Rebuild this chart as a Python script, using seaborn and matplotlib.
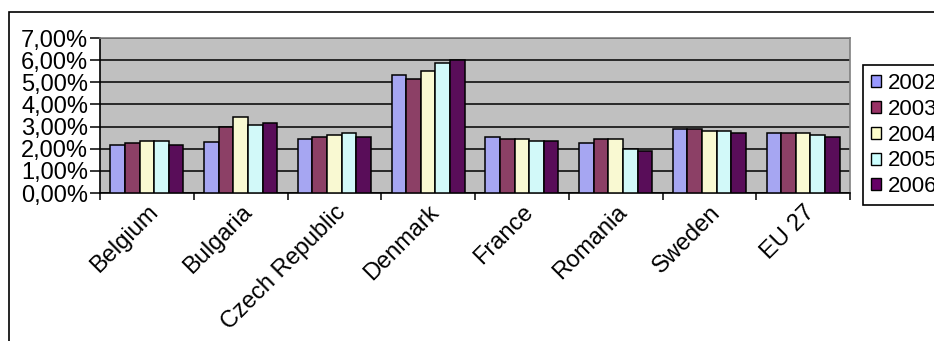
import matplotlib
matplotlib.use("Agg")
import matplotlib.pyplot as plt
import matplotlib.ticker as mticker
from matplotlib.patches import Patch, Rectangle
import seaborn as sns
import pandas as pd

countries = ["Belgium", "Bulgaria", "Czech Republic", "Denmark", "France", "Romania", "Sweden", "EU 27"]
years = ["2002", "2003", "2004", "2005", "2006"]
v2002 = [2.18, 2.30, 2.42, 5.32, 2.53, 2.27, 2.90, 2.72]
v2003 = [2.26, 3.00, 2.53, 5.14, 2.45, 2.45, 2.90, 2.72]
v2004 = [2.35, 3.45, 2.63, 5.52, 2.45, 2.45, 2.80, 2.72]
v2005 = [2.35, 3.07, 2.72, 5.88, 2.35, 1.98, 2.80, 2.63]
v2006 = [2.18, 3.18, 2.53, 6.01, 2.33, 1.91, 2.72, 2.54]
colors = ["#9999FF", "#993366", "#FFFFCC", "#CCFFFF", "#660066"]

series = [v2002, v2003, v2004, v2005, v2006]
rows = []
for y, vals in zip(years, series):
    for c, v in zip(countries, vals):
        rows.append({"country": c, "year": y, "value": v})
df = pd.DataFrame(rows)

plt.rcParams["font.family"] = ["Liberation Sans", "DejaVu Sans"]

fig = plt.figure(figsize=(9.34, 3.41), dpi=100)
ax = fig.add_axes([100/934, 1-193/341, 750/934, 155/341])

sns.barplot(data=df, x="country", y="value", hue="year", order=countries,
            hue_order=years, palette=colors, width=0.78, dodge=True,
            edgecolor="black", linewidth=1.1, legend=False, ax=ax, zorder=3,
            errorbar=None, gap=0)

ax.set_facecolor("#C0C0C0")
ax.set_ylim(0, 7)
ax.set_xlim(-0.5, len(countries)-0.5)
ax.yaxis.set_major_locator(mticker.MultipleLocator(1))
ax.yaxis.set_major_formatter(mticker.FuncFormatter(lambda v, p: f"{v:.2f}%".replace(".", ",")))
ax.grid(axis="y", color="black", linewidth=1.1, zorder=1)
ax.set_axisbelow(True)
ax.set_xlabel("")
ax.set_ylabel("")

ax.tick_params(axis="y", direction="out", length=7, width=1.1, pad=1.5, labelsize=17)
ax.tick_params(axis="x", which="major", length=0, pad=6, labelsize=17)
ax.set_xticks(range(len(countries)))
ax.set_xticklabels(countries, rotation=45, ha="right", rotation_mode="anchor")
ax.set_xticks([i - 0.5 for i in range(len(countries)+1)], minor=True)
ax.tick_params(axis="x", which="minor", direction="out", length=5, width=1.1)

for s in ["top", "right"]:
    ax.spines[s].set_color("#808080")
    ax.spines[s].set_linewidth(1.2)
for s in ["left", "bottom"]:
    ax.spines[s].set_color("black")
    ax.spines[s].set_linewidth(1.2)

handles = [Patch(facecolor=c, edgecolor="black", linewidth=1.0) for c in colors]
leg = fig.legend(handles, years, loc="upper left", bbox_to_anchor=(863/934, 1-65/341),
                 bbox_transform=fig.transFigure, borderaxespad=0, fontsize=16,
                 handlelength=0.45, handleheight=0.45, handletextpad=0.3,
                 labelspacing=0.22, borderpad=0.35, fancybox=False, framealpha=1,
                 edgecolor="black")
leg.get_frame().set_linewidth(1.2)

border = Rectangle((9/934, -0.2), 1.2, 1.2 - 12/341, transform=fig.transFigure,
                   fill=False, edgecolor="black", linewidth=1.2, clip_on=False)
fig.patches.append(border)

fig.savefig("out.png", dpi=100)
